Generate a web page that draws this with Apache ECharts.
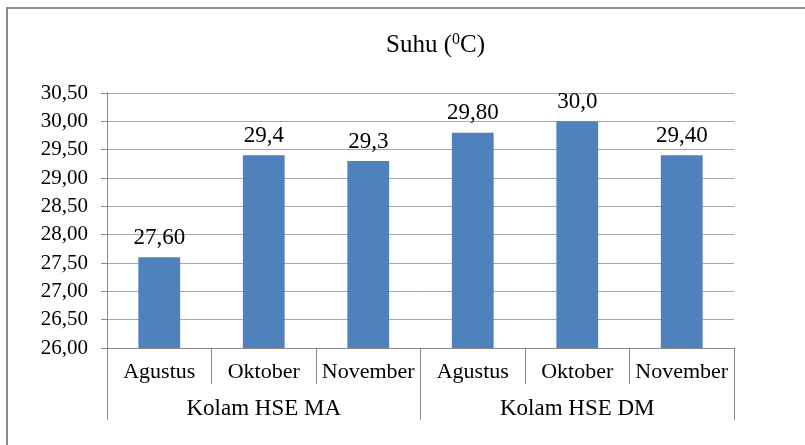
<!DOCTYPE html>
<html>
<head>
<meta charset="utf-8">
<script src="https://cdn.jsdelivr.net/npm/echarts@6/dist/echarts.min.js"></script>
<style>html,body{margin:0;padding:0;background:#fff;}#c{width:805px;height:445px;}</style>
</head>
<body>
<div id="c"></div>
<script>
var months = ['Agustus', 'Oktober', 'November', 'Agustus', 'Oktober', 'November'];
var groups = ['Kolam HSE MA', 'Kolam HSE DM'];
var values = [27.6, 29.4, 29.3, 29.8, 30.0, 29.4];
var valueLabels = ['27,60', '29,4', '29,3', '29,80', '30,0', '29,40'];
var yTicks = { min: 26, max: 30.5, interval: 0.5 };

var FONT = '"Liberation Serif", "Times New Roman", serif';
var chart = echarts.init(document.getElementById('c'));
chart.setOption({
  animation: false,
  backgroundColor: '#fff',
  textStyle: { fontFamily: FONT },
  title: {
    left: 381, top: 27,
    text: '{a|Suhu (}{s|0}{a|C)}',
    textStyle: {
      fontWeight: 'normal',
      rich: {
        a: { fontFamily: FONT, fontSize: 25, fontWeight: 'normal', color: '#000', lineHeight: 27 },
        s: { fontFamily: FONT, fontSize: 16, fontWeight: 'normal', color: '#000', verticalAlign: 'top', lineHeight: 27, padding: [0, 0, 10, 0] }
      }
    }
  },
  graphic: [{
    type: 'rect', silent: true, z: 100,
    shape: { x: 7, y: 8, width: 850, height: 480 },
    style: { fill: 'none', stroke: '#8c8c8c', lineWidth: 2 }
  }],
  grid: { left: 107, top: 93, width: 627, height: 255 },
  xAxis: [{
    type: 'category', data: months, position: 'bottom',
    axisLine: { show: true, lineStyle: { color: '#8a8a8a', width: 1 } },
    axisTick: { show: true, interval: 0, length: 36, lineStyle: { color: '#8a8a8a' } },
    axisLabel: { interval: 0, margin: 13, fontFamily: FONT, fontSize: 22, color: '#000' },
    splitLine: { show: false }
  }, {
    type: 'category', data: groups, position: 'bottom',
    axisLine: { show: false },
    axisTick: { show: true, interval: 0, length: 72, lineStyle: { color: '#8a8a8a' } },
    axisLabel: { interval: 0, margin: 49, fontFamily: FONT, fontSize: 23, color: '#000' },
    splitLine: { show: false }
  }],
  yAxis: {
    type: 'value', min: yTicks.min, max: yTicks.max, interval: yTicks.interval,
    axisLine: { show: true, lineStyle: { color: '#8a8a8a' } },
    axisTick: { show: true, length: 6, lineStyle: { color: '#8a8a8a' } },
    axisLabel: {
      margin: 19, fontFamily: FONT, fontSize: 21, color: '#000',
      formatter: function (v) { return v.toFixed(2).replace('.', ','); }
    },
    splitLine: { show: true, lineStyle: { color: '#a6a6a6', width: 1 } }
  },
  series: [{
    type: 'bar', xAxisIndex: 0, data: values, barWidth: '40%',
    itemStyle: { color: '#4f81bd' },
    label: {
      show: true, position: 'top', distance: 8,
      fontFamily: FONT, fontSize: 23, color: '#000',
      formatter: function (p) { return valueLabels[p.dataIndex]; }
    }
  }]
});
</script>
</body>
</html>
